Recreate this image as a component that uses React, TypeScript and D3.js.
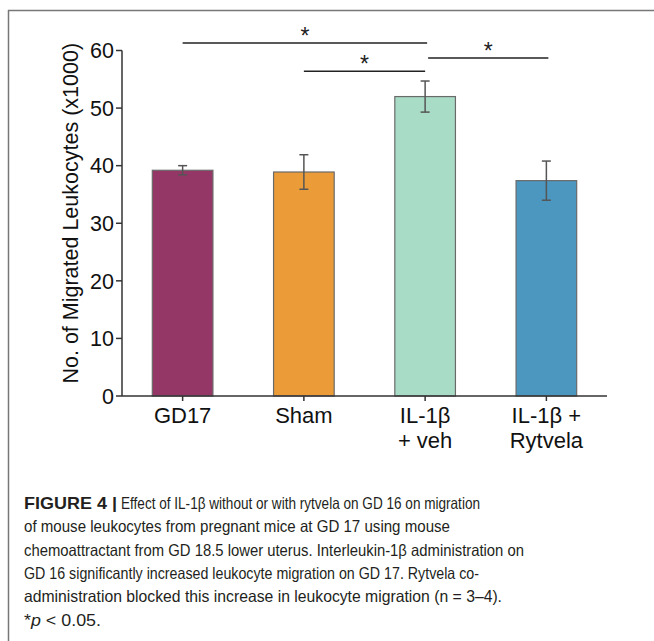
import React from 'react';
import { scaleBand, scaleLinear } from 'd3';

const categories = ['GD17', 'Sham', 'IL-1β + veh', 'IL-1β + Rytvela'];
const tickLabels = [['GD17'], ['Sham'], ['IL-1β', '+ veh'], ['IL-1β +', 'Rytvela']];
const means = [39.2, 38.9, 52.0, 37.4];
const sems = [0.8, 3.0, 2.7, 3.4];
const colors = ['#943766', '#eb9c39', '#a8dcc6', '#4b97c0'];
const yTicks = [0, 10, 20, 30, 40, 50, 60];
// [from, to, height in y units]
const sigPairs: [number, number, number][] = [
  [0, 2, 61.3],
  [1, 2, 56.4],
  [2, 3, 58.7],
];

const captionLines = [
  'of mouse leukocytes from pregnant mice at GD 17 using mouse',
  'chemoattractant from GD 18.5 lower uterus. Interleukin-1β administration on',
  'GD 16 significantly increased leukocyte migration on GD 17. Rytvela co-',
  'administration blocked this increase in leukocyte migration (n = 3–4).',
];
const captionWidths = [426, 500, 455, 478];

const width = 654;
const height = 641;
const left = 122;
const right = 607;
const bottom = 396;
const top = 50.5;

const App = () => {
  const x = scaleBand()
    .domain(categories)
    .range([left, right])
    .paddingInner(0.5)
    .paddingOuter(0.25);
  const y = scaleLinear().domain([0, 60]).range([bottom, top]);
  const cx = (i: number) => (x(categories[i]) as number) + x.bandwidth() / 2;

  const capFont = "'Liberation Sans Narrow', 'Liberation Sans', Arial, sans-serif";

  return (
    <svg
      width={width}
      height={height}
      style={{ position: 'absolute', left: 0, top: 0, background: '#fff' }}
      fontFamily="'Liberation Sans', Arial, sans-serif"
    >
      {/* frame */}
      <line x1={8} x2={654} y1={10.5} y2={10.5} stroke="#777" strokeWidth={1.5} />
      <line x1={8.5} x2={8.5} y1={10} y2={641} stroke="#777" strokeWidth={1.5} />

      {/* bars */}
      {categories.map((c, i) => (
        <rect
          key={c}
          x={x(c)}
          y={y(means[i])}
          width={x.bandwidth()}
          height={bottom - y(means[i])}
          fill={colors[i]}
          stroke="#6a6a6a"
          strokeWidth={1.2}
        />
      ))}

      {/* error bars */}
      {categories.map((c, i) => {
        const hi = y(means[i] + sems[i]);
        const lo = y(means[i] - sems[i]);
        const m = cx(i);
        return (
          <g key={c} stroke="#555" strokeWidth={1.5}>
            <line x1={m} x2={m} y1={hi} y2={lo} />
            <line x1={m - 4.5} x2={m + 4.5} y1={hi} y2={hi} />
            <line x1={m - 4.5} x2={m + 4.5} y1={lo} y2={lo} />
          </g>
        );
      })}

      {/* y axis */}
      <line x1={left} x2={left} y1={top} y2={bottom} stroke="#333" strokeWidth={1.5} />
      {yTicks.map(t => (
        <g key={t}>
          <line x1={left - 6} x2={left} y1={y(t)} y2={y(t)} stroke="#333" strokeWidth={1.5} />
          <text x={left - 8} y={y(t)} dy="0.36em" textAnchor="end" fontSize={21.5} fill="#111">
            {t}
          </text>
        </g>
      ))}
      <text
        transform={`translate(78,${(top + bottom) / 2 - 10}) rotate(-90)`}
        textAnchor="middle"
        fontSize={21.5}
        fill="#111"
      >
        No. of Migrated Leukocytes (x1000)
      </text>

      {/* x axis */}
      <line x1={left} x2={right} y1={bottom} y2={bottom} stroke="#333" strokeWidth={1.5} />
      {categories.map((c, i) => (
        <g key={c}>
          <line x1={cx(i)} x2={cx(i)} y1={bottom} y2={bottom + 5} stroke="#333" strokeWidth={1.5} />
          {tickLabels[i].map((l, j) => (
            <text key={l} x={cx(i)} y={423 + j * 25} textAnchor="middle" fontSize={22} fill="#111">
              {l}
            </text>
          ))}
        </g>
      ))}

      {/* significance */}
      {sigPairs.map(([a, b, v], k) => {
        const x1 = cx(a) + (k === 2 ? 3 : 0);
        const x2 = cx(b) + (k === 1 ? 0 : 2);
        return (
          <g key={k}>
            <line x1={x1} x2={x2} y1={y(v)} y2={y(v)} stroke="#222" strokeWidth={1.6} />
            <text x={(x1 + x2) / 2} y={y(v) + 1} textAnchor="middle" fontSize={23} fill="#222">
              *
            </text>
          </g>
        );
      })}

      {/* caption */}
      <g fontFamily={capFont} fontSize={16.5} fill="#231f20">
        <text x={24} y={509} fontWeight="bold" textLength={93} lengthAdjust="spacingAndGlyphs">
          FIGURE 4 |
        </text>
        <text x={121} y={509} textLength={359} lengthAdjust="spacingAndGlyphs">
          Effect of IL-1β without or with rytvela on GD 16 on migration
        </text>
        {captionLines.map((l, i) => (
          <text
            key={i}
            x={24}
            y={532.3 + i * 23.3}
            textLength={captionWidths[i]}
            lengthAdjust="spacingAndGlyphs"
          >
            {l}
          </text>
        ))}
        <text x={24} y={625.5} textLength={77} lengthAdjust="spacingAndGlyphs">
          *<tspan fontStyle="italic">p</tspan> &lt; 0.05.
        </text>
      </g>
    </svg>
  );
};

export default App;
